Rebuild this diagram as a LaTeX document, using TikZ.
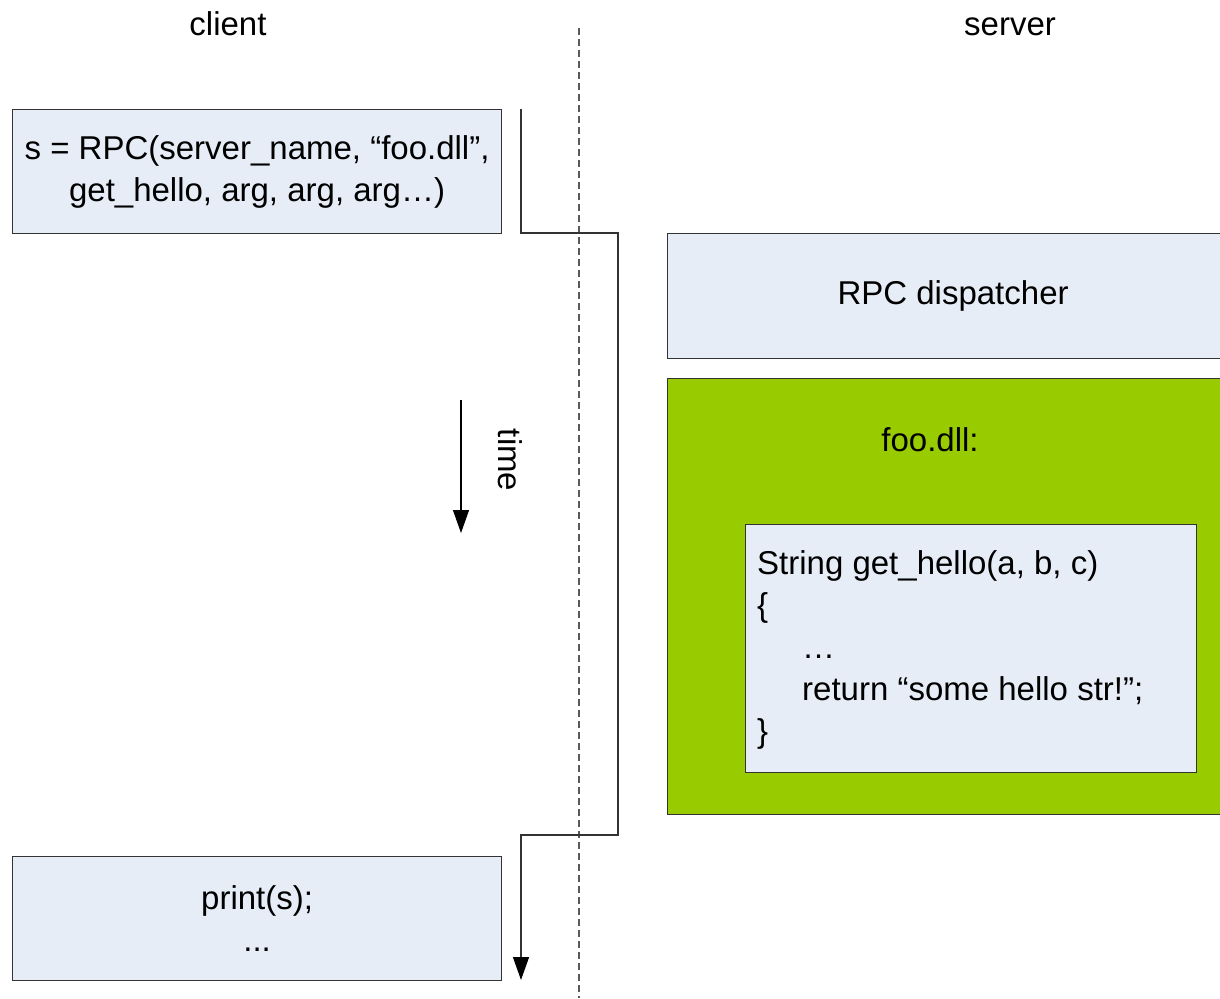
\documentclass[tikz,border=0pt]{standalone}
\usepackage{fontspec}
\setmainfont{Liberation Sans}
\usetikzlibrary{arrows.meta}
\definecolor{boxfill}{HTML}{E7EDF7}
\definecolor{dllgreen}{HTML}{99CC00}
\definecolor{edgegray}{HTML}{333333}
\tikzset{
  lbl/.style={font=\fontsize{33}{42}\selectfont, inner sep=0pt},
  codebox/.style={draw=edgegray, line width=1.2pt, fill=boxfill, anchor=north west, inner sep=0pt,
    font=\fontsize{33}{42}\selectfont, align=center},
  greenbox/.style={draw=edgegray, line width=1.2pt, fill=dllgreen, anchor=north west, inner sep=0pt},
  flow/.style={draw=edgegray, line width=1.4pt, -{Triangle[length=23pt,width=16pt,black]}},
  timeflow/.style={draw=black, line width=1.1pt, -{Triangle[length=23pt,width=16pt,black]}},
  divider/.style={draw=black!65, line width=1.2pt, dash pattern=on 7pt off 4pt}
}
\begin{document}
\begin{tikzpicture}[x=1pt,y=-1pt]
\useasboundingbox (0,0) rectangle (1220,998);
% headings
\node[lbl, anchor=base] (client) at (228,36) {client};
\node[lbl, anchor=base] (server) at (1010,36) {server};
% divider
\coordinate (dtop) at (579,28);
\coordinate (dbot) at (579,998);
\draw[divider] (dtop) -- (dbot);
% client boxes
\node[codebox, minimum width=489pt, minimum height=124pt] (call) at (12,109)
  {s = RPC(server\_name, “foo.dll”,\\ get\_hello, arg, arg, arg…)};
\node[codebox, minimum width=489pt, minimum height=124pt] (print) at (12,856)
  {print(s);\\ ...};
% server boxes
\node[codebox, minimum width=555pt, minimum height=125pt] (disp) at (667,233) {\hspace*{16pt}RPC dispatcher};
\node[greenbox, minimum width=555pt, minimum height=436pt] (dll) at (667,378) {};
\node[lbl] (dlltitle) at (930,440) {foo.dll:};
\node[codebox, minimum width=451pt, minimum height=248pt] (func) at (745,524) {};
\node[lbl, anchor=west, align=left] (code) at (757,650)
  {String get\_hello(a, b, c)\\
   \{\\
   \hspace*{45pt}…\\
   \hspace*{45pt}return “some hello str!”;\\
   \}};
% time arrow
\coordinate (t0) at (461,400);
\coordinate (t1) at (461,533);
\draw[timeflow] (t0) -- (t1);
\node[lbl, rotate=-90] (time) at (510,460) {time};
% call flow
\coordinate (f0) at (521,109);
\coordinate (f1) at (618,233);
\coordinate (f2) at (618,835);
\coordinate (f3) at (521,980);
\draw[flow] (f0) |- (f1) -- (f2) -| (f3);
\end{tikzpicture}
\end{document}
